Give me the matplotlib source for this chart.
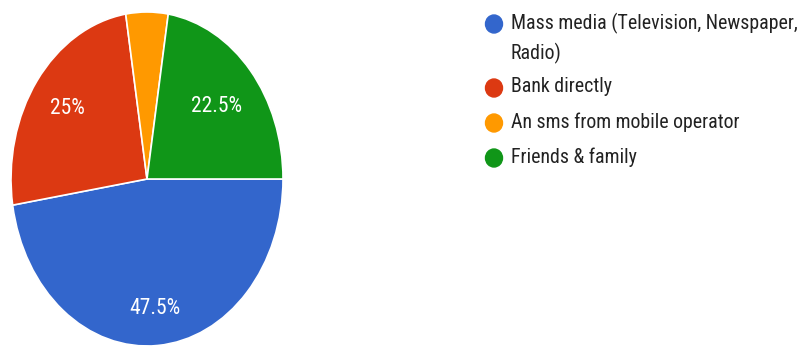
import numpy as np
import matplotlib.pyplot as plt
from matplotlib.patches import Ellipse

sources = ['Mass media (Television, Newspaper,\nRadio)', 'Bank directly',
           'An sms from mobile operator', 'Friends & family']
shares = [47.5, 25, 5, 22.5]
colors = ['#3366CC', '#DC3912', '#FF9900', '#109618']
label_dist = [0.78, 0.72, 0.7, 0.67]  # radial position of the % text per slice

plt.rcParams['font.family'] = ['Roboto Condensed', 'DejaVu Sans']

W, H = 807, 347
fig = plt.figure(figsize=(W / 100, H / 100), dpi=100)

# pie lives in its own axes, stretched a bit taller than wide
ax = fig.add_axes([11 / W, 1 / H, 272 / W, 334 / H])
wedges, _ = ax.pie(shares, colors=colors, startangle=0, counterclock=False,
                   wedgeprops=dict(edgecolor='white', linewidth=1.2))
ax.set_aspect('auto')
ax.set_xlim(-1, 1)
ax.set_ylim(-1, 1)
for w in wedges:
    w.set_clip_on(False)

for w, s, d in zip(wedges, shares, label_dist):
    if s < 10:
        continue
    th = np.deg2rad((w.theta1 + w.theta2) / 2)
    ax.text(d * np.cos(th), d * np.sin(th), f'{s:g}%', color='white',
            fontsize=15.5, ha='center', va='center')

# legend drawn by hand so the dot sits on the first line of a wrapped label
leg = fig.add_axes([0, 0, 1, 1])
leg.set_xlim(0, W)
leg.set_ylim(H, 0)
leg.axis('off')
y = 24
for src, c in zip(sources, colors):
    leg.add_patch(Ellipse((494, y), 17, 18, color=c))
    leg.text(511, y - 11, src, fontsize=14.3, color='#222222', va='top',
             ha='left', linespacing=1.55)
    y += 35 + 29 * src.count('\n')

fig.savefig('out.png', dpi=100)
